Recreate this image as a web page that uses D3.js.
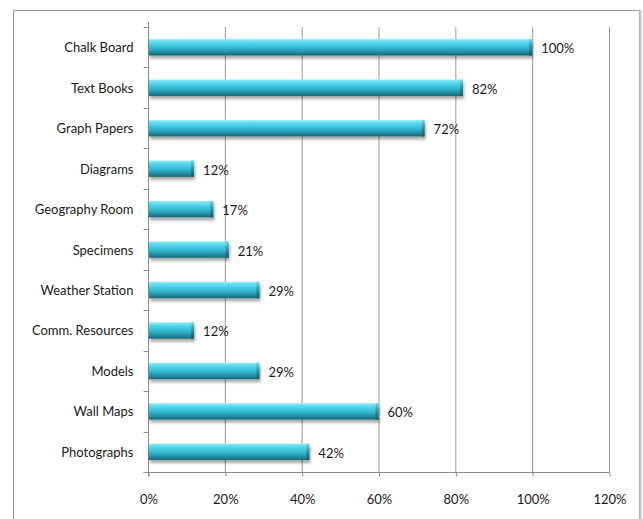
<!DOCTYPE html>
<html>
<head>
<meta charset="utf-8">
<script src="https://cdnjs.cloudflare.com/ajax/libs/d3/7.8.5/d3.min.js"></script>
<style>
  html, body { margin: 0; padding: 0; background: #fff; }
  svg { display: block; }
  text { font-family: Lato, "Open Sans", sans-serif; fill: #1a1a1a; }
</style>
</head>
<body>
<svg id="chart" width="643" height="519"></svg>
<script>
// Teaching resources and the share of respondents using each
const categories = [
  "Chalk Board", "Text Books", "Graph Papers", "Diagrams", "Geography Room",
  "Specimens", "Weather Station", "Comm. Resources", "Models", "Wall Maps", "Photographs"
];
const values = [100, 82, 72, 12, 17, 21, 29, 12, 29, 60, 42];
const xTicks = [0, 20, 40, 60, 80, 100, 120];

const W = 643, H = 519;
const plot = { left: 148, right: 609, top: 27, bottom: 472 };
const fontSize = 13;

const svg = d3.select("#chart");

// Outer chart frame
svg.append("rect")
  .attr("x", 13.5).attr("y", 10.5)
  .attr("width", 626).attr("height", 520)
  .attr("fill", "#fff").attr("stroke", "#9a9a9a").attr("stroke-width", 1);
svg.append("line")
  .attr("x1", 640.5).attr("x2", 640.5).attr("y1", 10).attr("y2", H)
  .attr("stroke", "#c8c8c8").attr("stroke-width", 2);

const x = d3.scaleLinear().domain([0, 120]).range([plot.left, plot.right]);
const y = d3.scaleBand().domain(categories).range([plot.top, plot.bottom]).paddingInner(0).paddingOuter(0);

// Bar shading: cylinder-like vertical gradient plus soft drop shadow
const defs = svg.append("defs");
const grad = defs.append("linearGradient").attr("id", "barGrad")
  .attr("x1", 0).attr("y1", 0).attr("x2", 0).attr("y2", 1);
[
  [0, "#a6f0fa"], [0.12, "#6fe0f2"], [0.35, "#45cbe3"],
  [0.6, "#31b0c9"], [0.85, "#1f8496"], [1, "#156776"]
].forEach(([o, c]) => grad.append("stop").attr("offset", o).attr("stop-color", c));

const capGrad = defs.append("linearGradient").attr("id", "capGrad")
  .attr("x1", 0).attr("y1", 0).attr("x2", 0).attr("y2", 1);
[
  [0, "#7fd6e4"], [0.4, "#2e9fb4"], [1, "#135a68"]
].forEach(([o, c]) => capGrad.append("stop").attr("offset", o).attr("stop-color", c));

const shadow = defs.append("filter").attr("id", "barShadow")
  .attr("x", "-5%").attr("y", "-30%").attr("width", "115%").attr("height", "190%");
shadow.append("feGaussianBlur").attr("in", "SourceAlpha").attr("stdDeviation", 1.6).attr("result", "b");
shadow.append("feOffset").attr("in", "b").attr("dx", 1).attr("dy", 2.5).attr("result", "o");
shadow.append("feComponentTransfer").attr("in", "o").attr("result", "s")
  .append("feFuncA").attr("type", "linear").attr("slope", 0.35);
const merge = shadow.append("feMerge");
merge.append("feMergeNode").attr("in", "s");
merge.append("feMergeNode").attr("in", "SourceGraphic");

// Vertical gridlines
svg.append("g").selectAll("line")
  .data(xTicks.filter(d => d > 0))
  .join("line")
  .attr("x1", d => x(d) + 0.5).attr("x2", d => x(d) + 0.5)
  .attr("y1", plot.top).attr("y2", plot.bottom)
  .attr("stroke", "#9a9a9a").attr("stroke-width", 1);

// X axis
const xAxis = svg.append("g")
  .attr("transform", `translate(0.5,${plot.bottom + 0.5})`)
  .call(d3.axisBottom(x).tickValues(xTicks).tickFormat(d => d + "%").tickSize(4).tickPadding(18));
xAxis.select(".domain").attr("stroke", "#8a8a8a").attr("d", `M${plot.left - 5},0H${plot.right}`);
xAxis.selectAll(".tick line").attr("stroke", "#8a8a8a");
xAxis.selectAll(".tick text").attr("font-size", fontSize).attr("fill", "#1a1a1a")
  .style("font-family", "Lato, 'Open Sans', sans-serif");

// Y axis: line with tick marks between categories
const yg = svg.append("g").attr("transform", `translate(${plot.left + 0.5},0)`);
yg.append("line").attr("x1", 0).attr("x2", 0)
  .attr("y1", plot.top - 5).attr("y2", plot.bottom + 4)
  .attr("stroke", "#8a8a8a");
const boundaries = d3.range(categories.length + 1).map(i => plot.top + i * y.step());
yg.selectAll("line.tk").data(boundaries).join("line").attr("class", "tk")
  .attr("x1", -5).attr("x2", 0)
  .attr("y1", d => Math.round(d) + 0.5).attr("y2", d => Math.round(d) + 0.5)
  .attr("stroke", "#8a8a8a");
yg.selectAll("text").data(categories).join("text")
  .attr("x", -15).attr("y", d => y(d) + y.bandwidth() / 2)
  .attr("text-anchor", "end").attr("dominant-baseline", "central")
  .attr("font-size", fontSize).text(d => d);

// Bars
const barH = 16.5;
const bars = svg.append("g").selectAll("g.bar")
  .data(categories.map((c, i) => ({ c, v: values[i] })))
  .join("g").attr("class", "bar")
  .attr("filter", "url(#barShadow)");
bars.append("rect")
  .attr("x", plot.left + 1)
  .attr("y", d => y(d.c) + y.bandwidth() / 2 - barH / 2)
  .attr("width", d => x(d.v) - plot.left - 1)
  .attr("height", barH)
  .attr("fill", "url(#barGrad)");
bars.append("rect")
  .attr("x", d => x(d.v) - 3)
  .attr("y", d => y(d.c) + y.bandwidth() / 2 - barH / 2)
  .attr("width", 3)
  .attr("height", barH)
  .attr("fill", "url(#capGrad)");

// Value labels
svg.append("g").selectAll("text")
  .data(categories.map((c, i) => ({ c, v: values[i] })))
  .join("text")
  .attr("x", d => x(d.v) + 9)
  .attr("y", d => y(d.c) + y.bandwidth() / 2 + 1)
  .attr("dominant-baseline", "central")
  .attr("font-size", fontSize)
  .text(d => d.v + "%");
</script>
</body>
</html>
